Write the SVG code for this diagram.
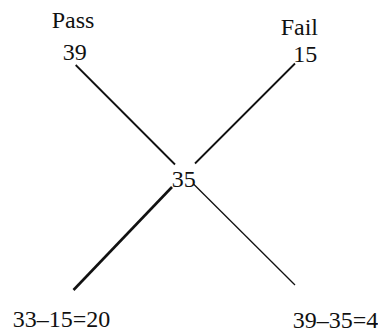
<svg xmlns="http://www.w3.org/2000/svg" width="378" height="334" viewBox="0 0 378 334">
<style>
  text { font-family: 'Liberation Serif', 'Times New Roman', serif; font-size: 24px; fill: #111; }
  .ln { stroke: #111; fill: none; stroke-linecap: butt; }
</style>
<rect width="378" height="334" fill="#fff"/>
<g id="connectors">
  <line class="ln" x1="75.7" y1="65" x2="175" y2="164.5" stroke-width="1.8"/>
  <line class="ln" x1="193.5" y1="184" x2="295" y2="285" stroke-width="1.3"/>
  <line class="ln" x1="295" y1="63.5" x2="195" y2="163.5" stroke-width="1.8"/>
  <line class="ln" x1="172" y1="187" x2="73.5" y2="290" stroke-width="2.6"/>
</g>
<g id="pass">
  <text x="51.7" y="28.3">Pass</text>
  <text x="62.7" y="60">39</text>
</g>
<g id="fail">
  <text x="280.7" y="35">Fail</text>
  <text x="293.3" y="61.7">15</text>
</g>
<g id="center">
  <text x="171.7" y="186.7">35</text>
</g>
<g id="bottom-left">
  <text x="12.7" y="326.7">33–15=20</text>
</g>
<g id="bottom-right">
  <text x="292.7" y="328.3">39–35=4</text>
</g>
</svg>
